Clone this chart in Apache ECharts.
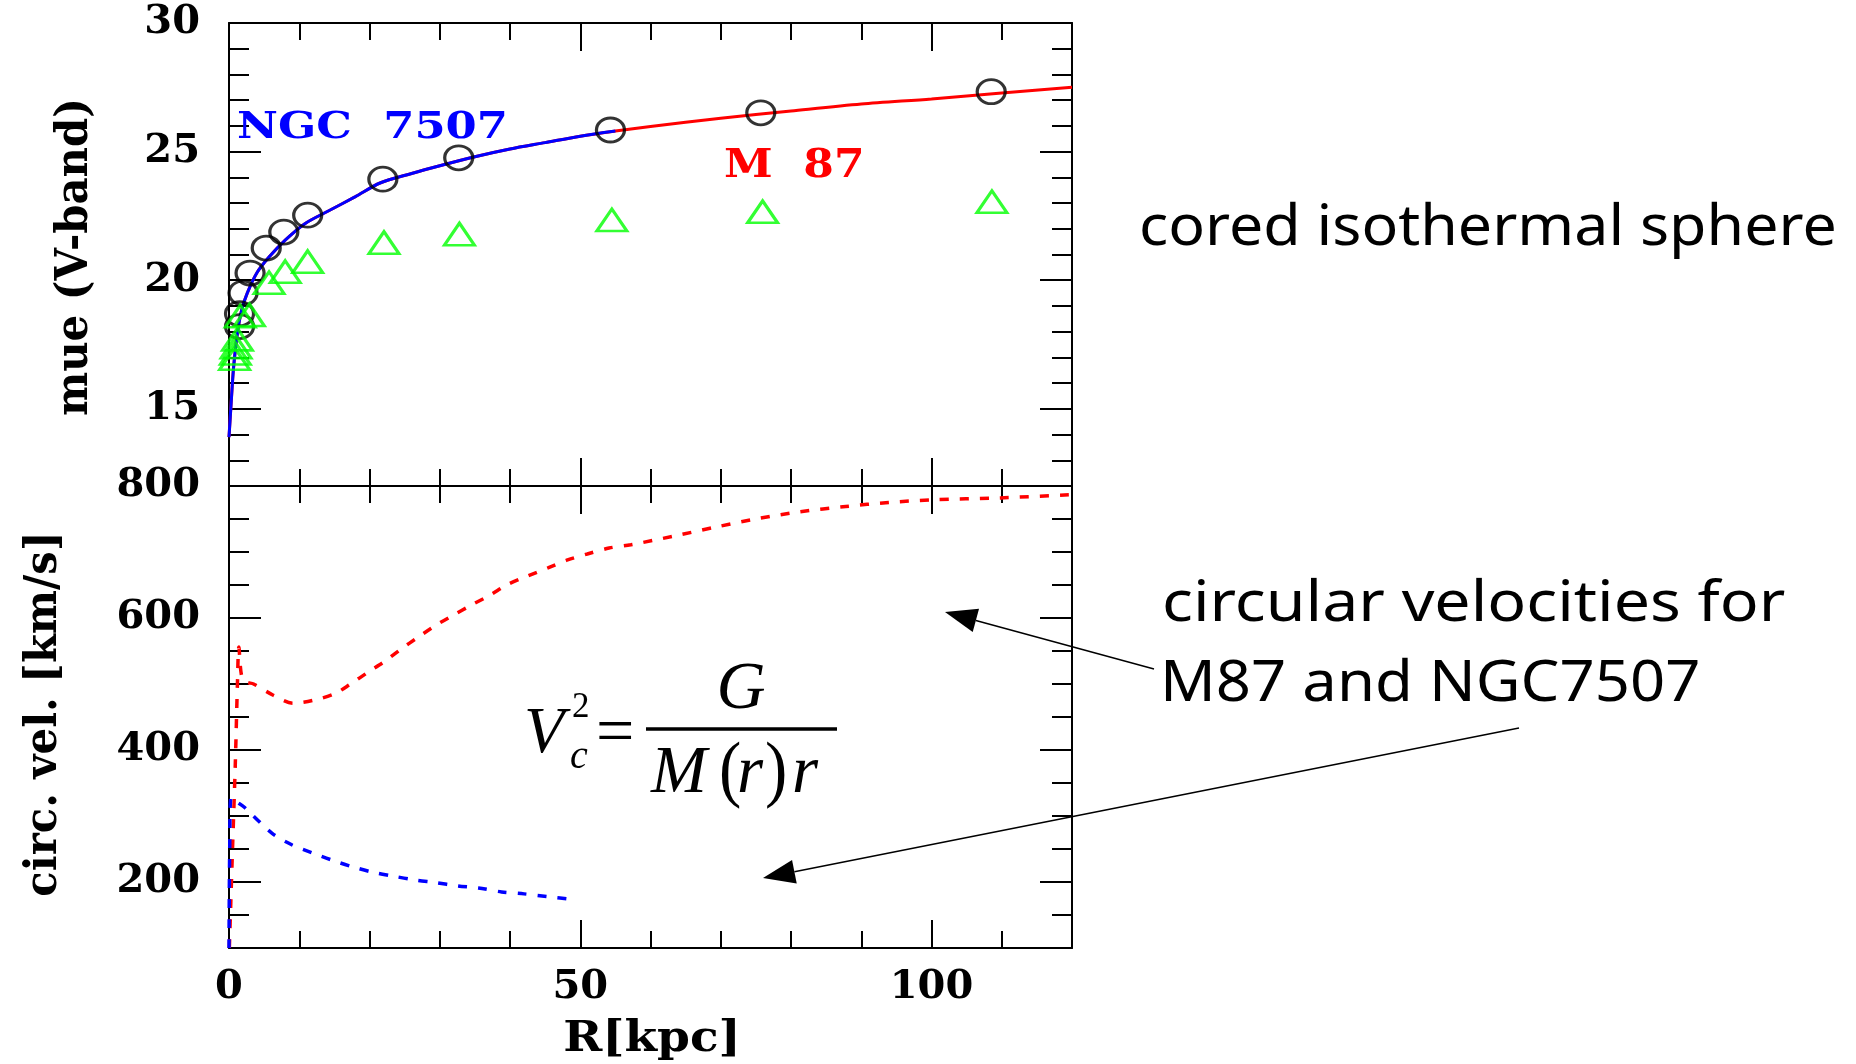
<!DOCTYPE html>
<html>
<head>
<meta charset="utf-8">
<script src="https://cdn.jsdelivr.net/npm/echarts@6/dist/echarts.min.js"></script>
<style>
  html, body { margin: 0; padding: 0; background: #fff; }
  #chart { width: 1856px; height: 1064px; }
</style>
</head>
<body>
<div id="chart"></div>
<script>
// ---- Surface brightness profiles (top panel): R in kpc, mue in mag/arcsec^2 ----
const rCircles   = [1.5, 1.5, 2.0, 3.0, 5.3, 7.8, 11.2, 21.9, 32.7, 54.3, 75.7, 108.5];
const muCircles  = [18.2, 18.7, 19.5, 20.28, 21.25, 21.87, 22.53, 23.93, 24.76, 25.84, 26.51, 27.33];

const rTriangles  = [0.8, 0.9, 1.0, 1.2, 1.6, 2.9, 5.7, 8.0, 11.2, 22.06, 32.8, 54.5, 75.96, 108.6];
const muTriangles = [16.95, 17.15, 17.4, 17.7, 18.6, 18.65, 19.9, 20.33, 20.72, 21.46, 21.79, 22.34, 22.66, 23.05];

// cored isothermal sphere fits
const rFitM87  = [0, 0.3, 0.65, 1.2, 1.8, 2.6, 4.0, 5.7, 8.0, 10.8, 14.2, 18, 21.5, 26, 30, 35, 40, 45, 50, 55, 60, 70, 80, 90, 100, 110, 120];
const muFitM87 = [13.9, 15.2, 16.6, 17.95, 18.84, 19.5, 20.3, 20.9, 21.56, 22.2, 22.7, 23.25, 23.78, 24.15, 24.45, 24.8, 25.1, 25.35, 25.6, 25.8, 25.98, 26.3, 26.58, 26.85, 27.05, 27.28, 27.5];
const rFitNGC  = [0, 0.3, 0.65, 1.2, 1.8, 2.6, 4.0, 5.7, 8.0, 10.8, 14.2, 18, 21.5, 26, 30, 35, 40, 45, 50, 55];
const muFitNGC = [13.9, 15.2, 16.6, 17.95, 18.84, 19.5, 20.3, 20.9, 21.56, 22.2, 22.7, 23.25, 23.78, 24.15, 24.45, 24.8, 25.1, 25.35, 25.6, 25.8];

// ---- Circular velocity curves (bottom panel): R in kpc, v in km/s ----
const rVcM87 = [0.05, 0.5, 0.9, 1.2, 1.4, 1.8, 2.5, 3.5, 6.3, 9.1, 11.9, 15, 17.3, 19.8, 22, 24.5, 26.8, 29.3, 31.7, 34.4, 37.2, 39.7, 42.6, 45.4, 48.2, 51, 54.1, 57.2, 63.3, 69.4, 75.5, 81.3, 87.8, 93.9, 100, 109.8, 120];
const vcM87  = [100, 250, 380, 500, 556, 512, 503, 500, 483, 471, 475, 485, 500, 518, 533, 553, 570, 588, 603, 619, 635, 651, 664, 676, 688, 697, 706, 711, 724, 738, 751, 761, 769, 775, 779, 782, 787];
const rVcNGC = [0, 0.1, 0.3, 1.0, 2.1, 6.1, 9, 11.9, 14.7, 17.6, 20.4, 23.3, 26.5, 29.4, 32.6, 35.5, 38.8, 42, 45.3, 49.5];
const vcNGC  = [100, 250, 328, 322, 314, 274, 256, 244, 233, 223, 215, 209, 203, 199, 194, 191, 185, 182, 178, 173];

// ---- Axis ranges and ticks ----
const rRange = [0, 120];
const muRange = [12, 30];
const vcRange = [100, 800];
const rMajorTicks = [0, 50, 100];
const muMajorTicks = [15, 20, 25, 30];
const vcMajorTicks = [200, 400, 600, 800];
const rMinorStep = 10;
const muMinorStep = 1;
const vcMinorStep = 50;

const pairs = (xs, ys) => xs.map((x, i) => [x, ys[i]]);

const LABEL_FONT = { fontFamily: 'DejaVu Serif', fontWeight: 'bold', fontSize: 40, color: '#000' };
const FRAME_LINE = { color: '#000', width: 2 };

const topBox = { left: 229, right: 784, top: 23, height: 463, outerBoundsMode: 'none' };
const botBox = { left: 229, right: 784, top: 486, height: 462, outerBoundsMode: 'none' };

function xAx(g, pos, major, labels) {
  const a = {
    type: 'value', gridIndex: g, position: pos, min: rRange[0], max: rRange[1],
    splitLine: { show: false },
    axisLine: { show: major, onZero: false, lineStyle: FRAME_LINE },
    axisTick: { show: true, inside: true, length: major ? 28 : 17, lineStyle: FRAME_LINE },
    axisLabel: { show: false }
  };
  if (major) {
    a.axisTick.customValues = rMajorTicks;
    a.axisLabel = Object.assign({ show: labels, customValues: rMajorTicks, margin: 20 }, LABEL_FONT);
  } else {
    a.interval = rMinorStep;
  }
  return a;
}

function yAx(g, pos, major, labels, range, majorTicks, minorStep) {
  const a = {
    type: 'value', gridIndex: g, position: pos, min: range[0], max: range[1],
    splitLine: { show: false },
    axisLine: { show: major, onZero: false, lineStyle: FRAME_LINE },
    axisTick: { show: true, inside: true, length: major ? 32 : 20, lineStyle: FRAME_LINE },
    axisLabel: { show: false }
  };
  if (major) {
    a.axisTick.customValues = majorTicks;
    a.axisLabel = Object.assign({ show: labels, customValues: majorTicks, margin: 29 }, LABEL_FONT);
  } else {
    a.interval = minorStep;
  }
  return a;
}

// ---- Annotation helpers ----
function label(text, x, y, opt) {
  opt = opt || {};
  return {
    type: 'text', x: x, y: y, rotation: opt.rot || 0, scaleX: opt.sx || 1, scaleY: opt.sy || 1, z: 10,
    style: {
      text: text, fill: opt.color || '#000',
      fontFamily: opt.family || 'DejaVu Serif', fontSize: opt.size || 36,
      fontWeight: opt.weight || 'normal', fontStyle: opt.style || 'normal',
      textAlign: opt.align || 'left', textVerticalAlign: opt.va || 'middle'
    }
  };
}

function arrow(x1, y1, x2, y2) {
  const dx = x2 - x1, dy = y2 - y1, len = Math.hypot(dx, dy);
  const ux = dx / len, uy = dy / len, L = 32, W = 12;
  const bx = x2 - ux * L, by = y2 - uy * L;
  return [
    { type: 'line', z: 10, shape: { x1: x1, y1: y1, x2: bx, y2: by }, style: { stroke: '#000', lineWidth: 1.5 } },
    { type: 'polygon', z: 10, shape: { points: [[x2, y2], [bx - uy * W, by + ux * W], [bx + uy * W, by - ux * W]] }, style: { fill: '#000' } }
  ];
}

const MATH = 'Liberation Serif';
const HAND = 'Noto Sans';

const graphics = [
  // axis titles
  label('mue (V-band)', 76, 257, { rot: Math.PI / 2, size: 44, sx: 0.95, weight: 'bold', align: 'center' }),
  label('circ. vel. [km/s]', 45, 714, { rot: Math.PI / 2, size: 44, sx: 0.95, weight: 'bold', align: 'center' }),
  label('R[kpc]', 652, 1040, { size: 42, sx: 1.12, weight: 'bold', align: 'center' }),
  // galaxy names in the profile panel
  label('NGC  7507', 237, 128, { sx: 1.18, weight: 'bold', color: '#0000ff', size: 38 }),
  label('M  87', 724, 167, { sx: 1.1, weight: 'bold', color: '#ff0000', size: 40 }),
  // notes
  label('cored isothermal sphere', 1139, 229, { family: HAND, size: 56, sx: 1.087 }),
  label('circular velocities for', 1162, 605, { family: HAND, size: 56, sx: 1.15 }),
  label('M87 and NGC7507', 1160, 685, { family: HAND, size: 56, sx: 1.1 }),
  // V_c^2 = G / (M(r) r)
  label('V', 524, 735, { family: MATH, size: 66, style: 'italic' }),
  label('2', 572, 708, { family: MATH, size: 35 }),
  label('c', 570, 757, { family: MATH, size: 40, style: 'italic' }),
  label('=', 596, 735, { family: MATH, size: 68 }),
  { type: 'line', z: 10, shape: { x1: 646, y1: 729, x2: 837, y2: 729 }, style: { stroke: '#000', lineWidth: 3.5 } },
  label('G', 741, 690, { family: MATH, size: 68, style: 'italic', align: 'center' }),
  label('M', 651, 774, { family: MATH, size: 67, style: 'italic' }),
  label('(', 719, 774, { family: MATH, size: 67, sy: 1.1 }),
  label('r', 737, 774, { family: MATH, size: 67, style: 'italic' }),
  label(')', 765, 774, { family: MATH, size: 67, sy: 1.1 }),
  label('r', 792, 774, { family: MATH, size: 67, style: 'italic' })
].concat(arrow(1154, 669, 945, 612), arrow(1519, 728, 763, 878));

const option = {
  backgroundColor: '#fff',
  animation: false,
  grid: [topBox, Object.assign({}, topBox), botBox, Object.assign({}, botBox)],
  xAxis: [
    xAx(0, 'bottom', true, false), xAx(0, 'top', true, false),
    xAx(1, 'bottom', false), xAx(1, 'top', false),
    xAx(2, 'bottom', true, true), xAx(2, 'top', true, false),
    xAx(3, 'bottom', false), xAx(3, 'top', false)
  ],
  yAxis: [
    yAx(0, 'left', true, true, muRange, muMajorTicks, muMinorStep), yAx(0, 'right', true, false, muRange, muMajorTicks, muMinorStep),
    yAx(1, 'left', false, false, muRange, muMajorTicks, muMinorStep), yAx(1, 'right', false, false, muRange, muMajorTicks, muMinorStep),
    yAx(2, 'left', true, true, vcRange, vcMajorTicks, vcMinorStep), yAx(2, 'right', true, false, vcRange, vcMajorTicks, vcMinorStep),
    yAx(3, 'left', false, false, vcRange, vcMajorTicks, vcMinorStep), yAx(3, 'right', false, false, vcRange, vcMajorTicks, vcMinorStep)
  ],
  series: [
    { name: 'M87 fit', type: 'line', xAxisIndex: 0, yAxisIndex: 0, data: pairs(rFitM87, muFitM87),
      symbol: 'none', smooth: 0.3, lineStyle: { color: '#ff0000', width: 3 }, z: 3 },
    { name: 'NGC 7507 fit', type: 'line', xAxisIndex: 0, yAxisIndex: 0, data: pairs(rFitNGC, muFitNGC),
      symbol: 'none', smooth: 0.3, lineStyle: { color: '#0000ff', width: 3 }, z: 4 },
    { name: 'M87', type: 'scatter', xAxisIndex: 0, yAxisIndex: 0, data: pairs(rCircles, muCircles),
      symbol: 'circle', symbolSize: [28, 24], z: 5,
      itemStyle: { color: 'rgba(0,0,0,0)', borderColor: '#000', borderWidth: 3 } },
    { name: 'NGC 7507', type: 'scatter', xAxisIndex: 0, yAxisIndex: 0, data: pairs(rTriangles, muTriangles),
      symbol: 'triangle', symbolSize: [30, 22], z: 6,
      itemStyle: { color: 'rgba(0,0,0,0)', borderColor: '#00ff00', borderWidth: 3 } },
    { name: 'M87 vc', type: 'line', xAxisIndex: 4, yAxisIndex: 4, data: pairs(rVcM87, vcM87),
      symbol: 'none', smooth: 0.3, lineStyle: { color: '#ff0000', width: 3.5, type: [9, 11] }, z: 3 },
    { name: 'NGC 7507 vc', type: 'line', xAxisIndex: 4, yAxisIndex: 4, data: pairs(rVcNGC, vcNGC),
      symbol: 'none', smooth: 0.3, lineStyle: { color: '#0000ff', width: 3.5, type: [9, 11] }, z: 4 }
  ],
  graphic: graphics
};

const chart = echarts.init(document.getElementById('chart'));
chart.setOption(option);
</script>
</body>
</html>
